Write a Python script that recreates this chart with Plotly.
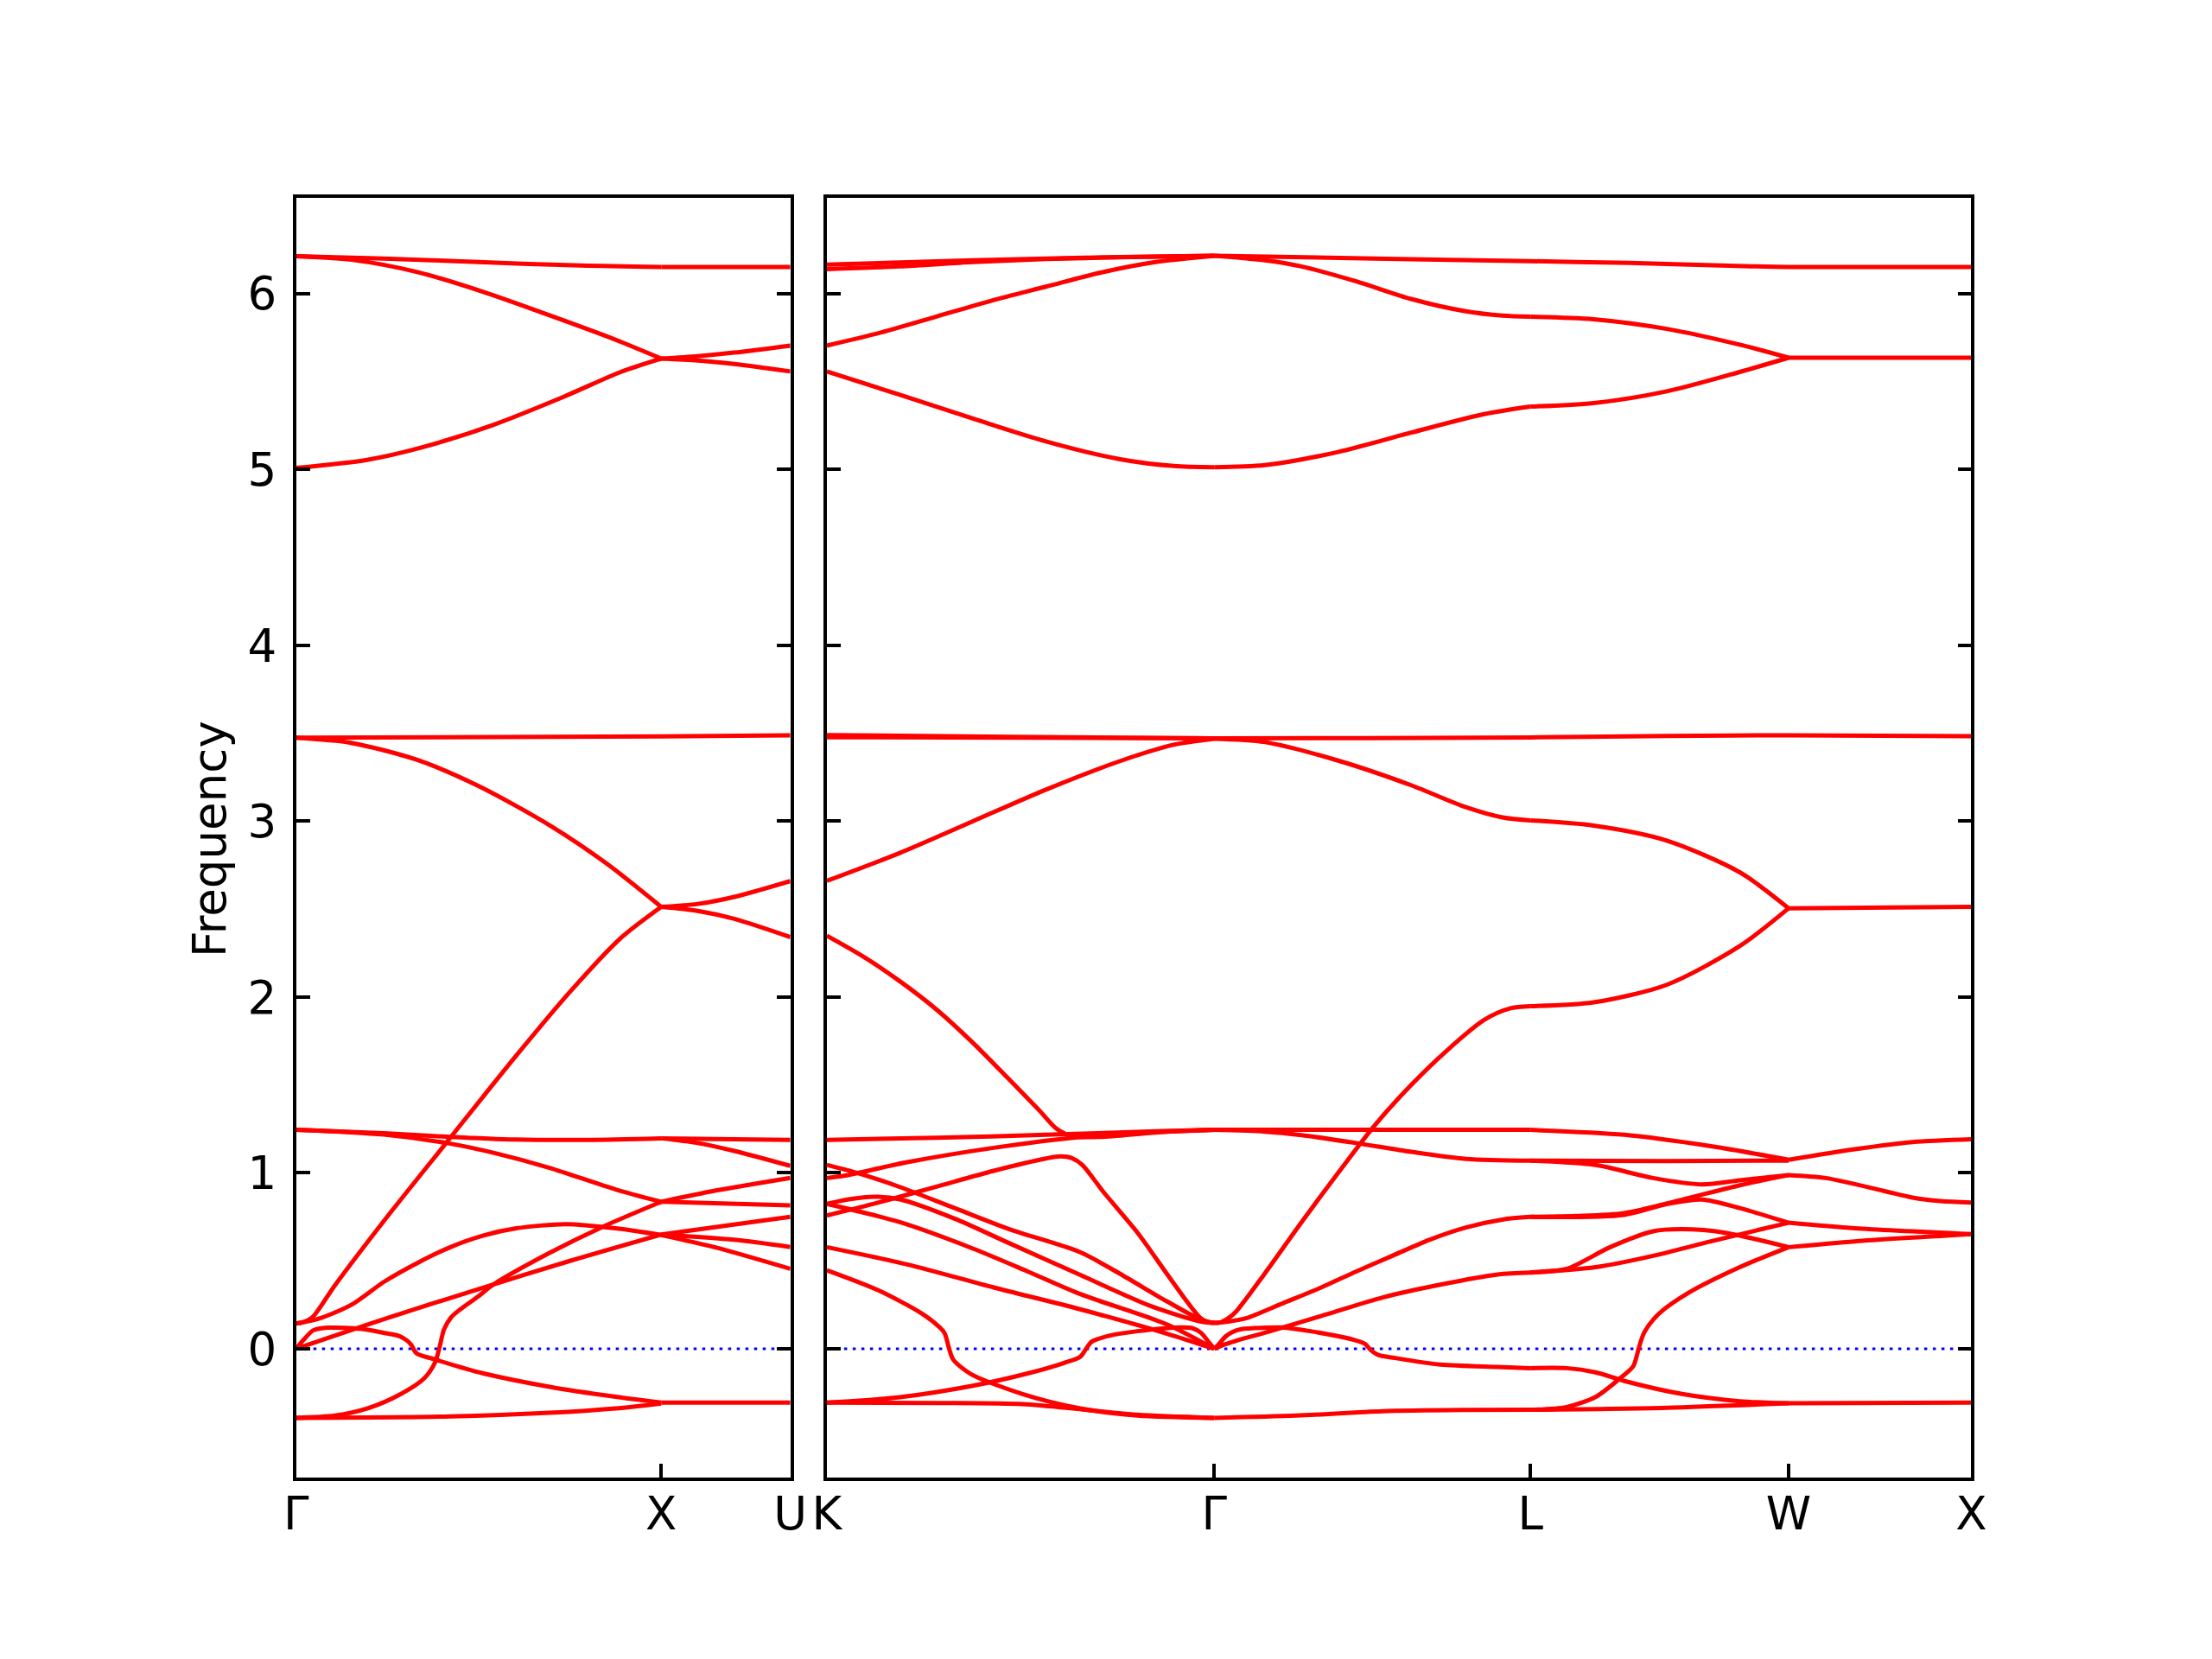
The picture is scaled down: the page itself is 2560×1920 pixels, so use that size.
import plotly.graph_objects as go

# ---------------- high-symmetry points ----------------
left_ticks = [0.0, 1.0, 1.3536]
left_labels = ['Γ', 'X', 'U']
right_ticks = [0.0, 1.0607, 1.9267, 2.6338, 3.1338]
right_labels = ['K', 'Γ', 'L', 'W', 'X']
y_ticks = [0, 1, 2, 3, 4, 5, 6]
y_range = [-0.7297, 6.545]

# ---------------- left panel: Γ-X-U  (q, frequency) ----------------
L_top_flat = [(0, 6.213), (0.24, 6.2), (0.5, 6.18), (0.78, 6.16), (1.0, 6.152)]
L_top_desc = [(0, 6.213), (0.151, 6.193), (0.332, 6.123), (0.513, 6.01), (0.694, 5.877), (0.875, 5.738), (1.0, 5.631)]
L_top_asc = [(0, 5.009), (0.194, 5.055), (0.348, 5.128), (0.541, 5.255), (0.734, 5.415), (0.889, 5.555), (1.0, 5.631)]
L_XU_top = [(1.0, 6.152), (1.3536, 6.152)]
L_XU_up = [(1.0, 5.631), (1.1, 5.645), (1.2, 5.665), (1.3536, 5.705)]
L_XU_dn = [(1.0, 5.631), (1.1, 5.62), (1.2, 5.6), (1.3536, 5.558)]

L_mid_flat = [(0, 3.475), (1.0, 3.482), (1.3536, 3.489)]
L_mid_desc = [(0, 3.475), (0.15, 3.446), (0.33, 3.35), (0.5, 3.2), (0.7, 2.97), (0.85, 2.76), (1.0, 2.513)]
L_steep = [(0, 0.144), (0.02, 0.152), (0.045, 0.18), (0.106, 0.36), (0.24, 0.726), (0.413, 1.176),
           (0.6, 1.66), (0.75, 2.03), (0.886, 2.33), (1.0, 2.513)]
L_XU_mup = [(1.0, 2.513), (1.1, 2.53), (1.2, 2.57), (1.3536, 2.66)]
L_XU_mdn = [(1.0, 2.513), (1.1, 2.49), (1.2, 2.445), (1.3536, 2.341)]

L_flat12 = [(0, 1.246), (0.24, 1.226), (0.42, 1.205), (0.6, 1.19), (0.8, 1.188), (1.0, 1.197)]
L_desc12 = [(0, 1.246), (0.24, 1.218), (0.413, 1.17), (0.55, 1.11), (0.694, 1.029), (0.875, 0.906), (1.0, 0.836)]
L_XU_12a = [(1.0, 1.197), (1.1, 1.17), (1.2, 1.125), (1.3536, 1.04)]
L_XU_12b = [(1.0, 1.197), (1.3536, 1.188)]
L_XU_08a = [(1.0, 0.836), (1.15, 0.9), (1.3536, 0.972)]
L_XU_08b = [(1.0, 0.836), (1.3536, 0.816)]
L_hump = [(0, 0.144), (0.06, 0.17), (0.151, 0.25), (0.2415, 0.382), (0.332, 0.488), (0.4225, 0.578),
          (0.513, 0.644), (0.603, 0.685), (0.739, 0.709), (0.875, 0.685), (1.0, 0.647)]
L_XU_hump = [(1.0, 0.647), (1.146, 0.578), (1.3536, 0.455)]
L_lin = [(0, 0.0), (0.25, 0.175), (0.5, 0.34), (0.75, 0.5), (1.0, 0.65)]
L_XU_lin_up = [(1.0, 0.65), (1.3536, 0.751)]
L_XU_lin_dn = [(1.0, 0.65), (1.2, 0.62), (1.3536, 0.579)]
L_small = [(0, 0.0), (0.02, 0.05), (0.047, 0.105), (0.0865, 0.12), (0.18, 0.113), (0.2415, 0.09), (0.283, 0.072),
           (0.305, 0.045), (0.315, 0.023), (0.33, -0.026), (0.378, -0.059), (0.456, -0.108), (0.513, -0.14),
           (0.694, -0.216), (0.875, -0.273), (1.0, -0.306)]
L_S = [(0, -0.393), (0.106, -0.38), (0.196, -0.339), (0.287, -0.257), (0.35, -0.17), (0.38, -0.08),
       (0.393, 0.01), (0.405, 0.11), (0.425, 0.18), (0.45, 0.225), (0.5, 0.3), (0.54, 0.365),
       (0.694, 0.545), (0.839, 0.693), (1.0, 0.836)]
L_bottom = [(0, -0.393), (0.4225, -0.385), (0.694, -0.364), (0.875, -0.339), (1.0, -0.311)]
L_XU_bottom = [(1.0, -0.306), (1.3536, -0.306)]

left_bands = [L_top_flat, L_top_desc, L_top_asc, L_XU_top, L_XU_up, L_XU_dn,
              L_mid_flat, L_mid_desc, L_steep, L_XU_mup, L_XU_mdn,
              L_flat12, L_desc12, L_XU_12a, L_XU_12b, L_XU_08a, L_XU_08b,
              L_hump, L_XU_hump, L_lin, L_XU_lin_up, L_XU_lin_dn, L_small, L_S, L_bottom, L_XU_bottom]

# ---------------- right panel: K-Γ-L-W-X ----------------
R_top_KG_a = [(0, 6.165), (0.2, 6.178), (0.4, 6.19), (0.6, 6.2), (0.8, 6.208), (1.0607, 6.216)]
R_top_KG_b = [(0, 6.14), (0.2, 6.155), (0.4, 6.18), (0.6, 6.197), (0.8, 6.207), (1.0607, 6.216)]
R_top_GX = [(1.0607, 6.216), (1.5, 6.2), (1.9267, 6.185), (2.2, 6.175), (2.45, 6.16), (2.6338, 6.152), (3.1338, 6.152)]
R_dome_KG = [(0, 5.705), (0.15, 5.78), (0.3, 5.87), (0.45, 5.96), (0.6, 6.04), (0.75, 6.12), (0.9, 6.18), (1.0607, 6.216)]
R_dome_GL = [(1.0607, 6.216), (1.2, 6.19), (1.3, 6.155), (1.45, 6.07), (1.6, 5.97), (1.75, 5.9), (1.85, 5.875), (1.9267, 5.869)]
R_dome_LW = [(1.9267, 5.869), (2.1, 5.855), (2.3, 5.8), (2.5, 5.71), (2.6338, 5.636)]
R_dome_WX = [(2.6338, 5.636), (3.1338, 5.636)]
R_bowl_KG = [(0, 5.558), (0.2, 5.425), (0.4, 5.29), (0.6, 5.16), (0.8, 5.06), (0.95, 5.02), (1.0607, 5.013)]
R_bowl_GL = [(1.0607, 5.013), (1.2, 5.025), (1.4, 5.1), (1.6, 5.21), (1.8, 5.315), (1.9267, 5.358)]
R_bowl_LW = [(1.9267, 5.358), (2.1, 5.378), (2.3, 5.445), (2.5, 5.555), (2.6338, 5.636)]

R_flat_a = [(0, 3.49), (0.5, 3.48), (1.0607, 3.472), (1.9267, 3.477), (2.3, 3.485), (2.6338, 3.489), (3.1338, 3.484)]
R_flat_b = [(0, 3.478), (1.0607, 3.472)]
R_mdome_KG = [(0, 2.661), (0.2, 2.82), (0.4, 3.0), (0.6, 3.18), (0.8, 3.34), (0.95, 3.435), (1.0607, 3.469)]
R_mdome_GL = [(1.0607, 3.469), (1.2, 3.45), (1.4, 3.345), (1.6, 3.205), (1.75, 3.08), (1.85, 3.022), (1.9267, 3.005)]
R_mdome_LW = [(1.9267, 3.005), (2.1, 2.975), (2.3, 2.89), (2.5, 2.71), (2.6338, 2.505)]
R_mlow_LW = [(1.9267, 1.948), (2.1, 1.97), (2.3, 2.07), (2.5, 2.29), (2.6338, 2.505)]
R_m_WX = [(2.6338, 2.505), (3.1338, 2.513)]
R_steep_KG = [(0, 2.349), (0.1, 2.23), (0.2, 2.09), (0.3, 1.93), (0.4, 1.74), (0.5, 1.53), (0.58, 1.36),
              (0.63, 1.25), (0.67, 1.21), (0.75, 1.205), (0.9, 1.23), (1.0607, 1.245)]
R_steep_GL = [(1.0607, 0.147), (1.08, 0.152), (1.1, 0.175), (1.12, 0.21), (1.2, 0.43), (1.3, 0.72), (1.4, 1.0),
              (1.5, 1.27), (1.6, 1.5), (1.7, 1.7), (1.8, 1.87), (1.87, 1.935), (1.9267, 1.948)]

R_KG1 = [(0, 1.188), (0.3, 1.2), (0.6, 1.217), (0.9, 1.237), (1.0607, 1.245)]
R_KG2 = [(0, 0.971), (0.05, 0.985), (0.22, 1.061), (0.457, 1.143), (0.694, 1.204), (0.9, 1.232), (1.0607, 1.245)]
R_KG4 = [(0, 0.758), (0.142, 0.832), (0.3, 0.922), (0.457, 1.012), (0.6, 1.082), (0.64, 1.094), (0.67, 1.085),
         (0.7, 1.045), (0.757, 0.893), (0.851, 0.66), (0.93, 0.43), (0.993, 0.25), (1.025, 0.172),
         (1.045, 0.15), (1.0607, 0.147)]
R_KG5 = [(0, 1.046), (0.1, 0.99), (0.2, 0.92), (0.35, 0.8), (0.5, 0.68), (0.694, 0.549), (0.8, 0.43),
         (0.931, 0.27), (1.025, 0.165), (1.0607, 0.147)]
R_KG6a = [(0, 0.824), (0.06, 0.85), (0.13, 0.865), (0.2, 0.85), (0.35, 0.74), (0.5, 0.6), (0.694, 0.42),
          (0.891, 0.24), (1.025, 0.155), (1.0607, 0.147)]
R_KG6b = [(0, 0.824), (0.2, 0.72), (0.4, 0.57), (0.55, 0.44), (0.694, 0.311), (0.931, 0.139), (1.0607, 0.0)]
R_KG7 = [(0, 0.578), (0.22, 0.48), (0.457, 0.349), (0.694, 0.225), (0.93, 0.087), (1.0607, 0.0)]
R_KG8 = [(0, 0.447), (0.141, 0.333), (0.26, 0.201), (0.31, 0.12), (0.323, 0.087), (0.335, 0.0), (0.346, -0.061),
         (0.394, -0.143), (0.536, -0.257), (0.694, -0.339), (0.851, -0.38), (1.0607, -0.393)]
R_KG9 = [(0, -0.306), (0.2, -0.275), (0.4, -0.21), (0.55, -0.14), (0.65, -0.08), (0.694, -0.045), (0.71, 0.0),
         (0.725, 0.04), (0.773, 0.074), (0.85, 0.1), (0.97, 0.122), (1.0, 0.118), (1.025, 0.09), (1.045, 0.04),
         (1.0607, 0.0)]
R_KG10 = [(0, -0.306), (0.3, -0.308), (0.536, -0.315), (0.7, -0.345), (0.85, -0.375), (1.0607, -0.393)]

R_GL1 = [(1.0607, 1.245), (1.5, 1.245), (1.9267, 1.245)]
R_GL2 = [(1.0607, 1.245), (1.2, 1.235), (1.3, 1.215), (1.45, 1.17), (1.6, 1.12), (1.75, 1.08), (1.9267, 1.07)]
R_GL3 = [(1.0607, 0.147), (1.1, 0.155), (1.15, 0.175), (1.25, 0.26), (1.35, 0.345), (1.45, 0.44), (1.55, 0.53),
         (1.65, 0.62), (1.75, 0.69), (1.85, 0.735), (1.9267, 0.75)]
R_GL4 = [(1.0607, 0.0), (1.09, 0.025), (1.127, 0.05), (1.206, 0.095), (1.364, 0.193), (1.522, 0.292),
         (1.68, 0.365), (1.837, 0.423), (1.9267, 0.434)]
R_GL5 = [(1.0607, 0.0), (1.075, 0.03), (1.092, 0.07), (1.11, 0.095), (1.135, 0.112), (1.2, 0.12), (1.245, 0.121),
         (1.324, 0.1), (1.443, 0.051), (1.474, 0.028), (1.49, -0.008), (1.51, -0.035), (1.55, -0.05),
         (1.68, -0.09), (1.837, -0.103), (1.9267, -0.11)]
R_GL6 = [(1.0607, -0.393), (1.285, -0.38), (1.522, -0.355), (1.75, -0.348), (1.9267, -0.347)]

R_LW_T1 = [(1.9267, 1.245), (2.184, 1.217), (2.421, 1.152), (2.6338, 1.075)]
R_LW_T2 = [(1.9267, 1.07), (2.3, 1.068), (2.6338, 1.07)]
R_LW_D1 = [(1.9267, 1.07), (2.105, 1.045), (2.263, 0.971), (2.397, 0.935), (2.5, 0.958), (2.6338, 0.988)]
R_LW_R1 = [(1.9267, 0.75), (2.05, 0.755), (2.184, 0.772), (2.342, 0.848), (2.5, 0.93), (2.6338, 0.988)]
R_LW_H1 = [(1.9267, 0.75), (2.184, 0.762), (2.302, 0.824), (2.397, 0.849), (2.5, 0.8), (2.6338, 0.717)]
R_LW_R2 = [(1.9267, 0.434), (2.105, 0.464), (2.263, 0.529), (2.421, 0.611), (2.6338, 0.717)]
R_LW_H2 = [(1.9267, 0.434), (2.026, 0.455), (2.145, 0.578), (2.263, 0.668), (2.342, 0.68), (2.46, 0.66), (2.6338, 0.578)]
R_LW_S = [(1.9267, -0.347), (2.026, -0.331), (2.105, -0.274), (2.168, -0.175), (2.208, -0.1), (2.218, -0.04),
          (2.223, 0.0), (2.239, 0.095), (2.279, 0.2), (2.358, 0.316), (2.5, 0.464), (2.6338, 0.578)]
R_LW_M = [(1.9267, -0.11), (2.026, -0.11), (2.105, -0.134), (2.184, -0.183), (2.342, -0.257), (2.5, -0.298), (2.6338, -0.31)]
R_LW_B = [(1.9267, -0.347), (2.3, -0.335), (2.6338, -0.31)]

R_WX1 = [(2.6338, 1.075), (2.815, 1.135), (2.973, 1.176), (3.1338, 1.192)]
R_WX2 = [(2.6338, 0.988), (2.736, 0.971), (2.894, 0.898), (2.973, 0.86), (3.05, 0.84), (3.1338, 0.832)]
R_WX3 = [(2.6338, 0.717), (2.815, 0.685), (3.1338, 0.652)]
R_WX4 = [(2.6338, 0.578), (2.815, 0.611), (3.1338, 0.652)]
R_WX5 = [(2.6338, -0.31), (3.1338, -0.306)]

right_bands = [R_top_KG_a, R_top_KG_b, R_top_GX, R_dome_KG, R_dome_GL, R_dome_LW, R_dome_WX,
               R_bowl_KG, R_bowl_GL, R_bowl_LW, R_flat_a, R_flat_b, R_mdome_KG, R_mdome_GL, R_mdome_LW,
               R_mlow_LW, R_m_WX, R_steep_KG, R_steep_GL,
               R_KG1, R_KG2, R_KG4, R_KG5, R_KG6a, R_KG6b, R_KG7, R_KG8, R_KG9, R_KG10,
               R_GL1, R_GL2, R_GL3, R_GL4, R_GL5, R_GL6,
               R_LW_T1, R_LW_T2, R_LW_D1, R_LW_R1, R_LW_H1, R_LW_R2, R_LW_H2, R_LW_S, R_LW_M, R_LW_B,
               R_WX1, R_WX2, R_WX3, R_WX4, R_WX5]

# ---------------- figure ----------------
OFF = 8  # page body margin of the html page
W, H = 2560 - 2 * OFF, 1920 - 2 * OFF
px_left = (342.7 - OFF, 914.7 - OFF)
px_right = (956.9 - OFF, 2281.3 - OFF)
px_top, px_bottom = 229.0 - OFF, 1709.5 - OFF

fig = go.Figure()
RED = '#ff0000'
LW = 5.0

# zero reference (dotted blue)
for xa, xr in (('x', left_ticks), ('x2', right_ticks)):
    fig.add_trace(go.Scatter(x=[xr[0], xr[-1]], y=[0, 0], xaxis=xa, yaxis='y' if xa == 'x' else 'y2',
                             mode='lines', line=dict(color='#0000ff', width=3.2, dash='3.5px,6.5px'),
                             showlegend=False, hoverinfo='skip'))

for band in left_bands:
    fig.add_trace(go.Scatter(x=[p[0] for p in band], y=[p[1] for p in band], xaxis='x', yaxis='y',
                             mode='lines', line=dict(color=RED, width=LW, shape='spline', smoothing=0.8),
                             showlegend=False, hoverinfo='skip'))
for band in right_bands:
    fig.add_trace(go.Scatter(x=[p[0] for p in band], y=[p[1] for p in band], xaxis='x2', yaxis='y2',
                             mode='lines', line=dict(color=RED, width=LW, shape='spline', smoothing=0.8),
                             showlegend=False, hoverinfo='skip'))

FONT = dict(family='DejaVu Sans', size=53, color='black')
ax_common = dict(showline=True, linecolor='black', linewidth=3.6, showgrid=False, zeroline=False,
                 ticks='inside', ticklen=16, tickwidth=3.6, tickcolor='black', tickfont=FONT,
                 automargin=False)
ydom = [1 - px_bottom / H, 1 - px_top / H]

fig.update_layout(
    width=W, height=H, margin=dict(l=0, r=0, t=0, b=0, pad=0, autoexpand=False),
    paper_bgcolor='white', plot_bgcolor='white', showlegend=False,
    xaxis=dict(domain=[px_left[0] / W, px_left[1] / W], range=[left_ticks[0], left_ticks[-1]],
               tickvals=left_ticks, ticktext=left_labels, mirror=True, anchor='y',
               ticklabelstandoff=-7, **ax_common),
    xaxis2=dict(domain=[px_right[0] / W, px_right[1] / W], range=[right_ticks[0], right_ticks[-1]],
                tickvals=right_ticks, ticktext=right_labels, mirror=True, anchor='y2',
                ticklabelstandoff=-7, **ax_common),
    yaxis=dict(domain=ydom, range=y_range, tickvals=y_ticks, ticktext=[str(v) for v in y_ticks],
               mirror='ticks', anchor='x', ticklabelstandoff=8, **ax_common),
    yaxis2=dict(domain=ydom, range=y_range, tickvals=y_ticks, showticklabels=False,
                mirror='ticks', anchor='x2', **ax_common),
    annotations=[dict(text='Frequency', x=(242 - OFF) / W, y=1 - (971 - OFF) / H, xref='paper', yref='paper',
                      textangle=-90, showarrow=False, font=FONT, xanchor='center', yanchor='middle')],
)

fig.write_html('out.html')
